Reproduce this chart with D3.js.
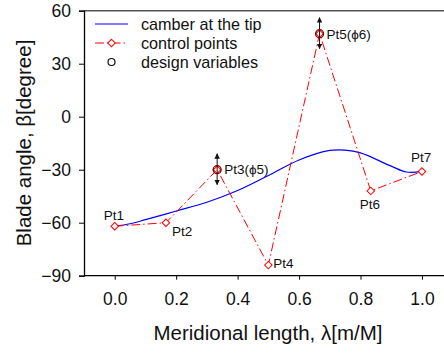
<!DOCTYPE html>
<html lang="en">
<head>
  <meta charset="UTF-8">
  <title>Blade angle vs meridional length</title>
  <script src="https://d3js.org/d3.v7.min.js"></script>
  <style>
    body { margin: 0; background: #fff; }
    svg { display: block; font-family: "Liberation Sans", Arial, sans-serif; }
  </style>
</head>
<body>
  <div id="chart"></div>
  <script>
    // control points Pt1..Pt7
    const ctrlX = [0, 1/6, 2/6, 3/6, 4/6, 5/6, 1];
    const ctrlY = [-62, -60, -30, -84, 47, -42, -31];
    const ctrlLabels = ["Pt1", "Pt2", "Pt3(\u03d55)", "Pt4", "Pt5(\u03d56)", "Pt6", "Pt7"];
    // label offsets in px from each point
    const labelDx = [-11, 6, 7, 5, 7, -11, -11];
    const labelDy = [-6, 13, 4, 3, 5, 18, -9];
    // design variables are Pt3 and Pt5
    const designIdx = [2, 4];

    // camber line at the tip
    const camberX = [0, 0.05, 0.1, 0.2, 0.3, 0.4, 0.5, 0.6, 0.7, 0.75, 0.8, 0.9, 0.95, 1.0];
    const camberY = [-62, -60.6, -58.3, -53.4, -48.4, -41.8, -33.3, -24.5, -19.1, -18.9, -20.5, -28, -31.3, -31];

    const xTicks = [0, 0.2, 0.4, 0.6, 0.8, 1.0];
    const yTicks = [-90, -60, -30, 0, 30, 60];

    const width = 444, height = 353;
    const svg = d3.select("#chart").append("svg")
      .attr("width", width)
      .attr("height", height);

    const x = d3.scaleLinear().domain([-0.1, 1.1]).range([84, 452.7]);
    const y = d3.scaleLinear().domain([-90, 60]).range([275.7, 10.7]);

    // frame top
    svg.append("line")
      .attr("x1", x(-0.1)).attr("x2", width)
      .attr("y1", y(60)).attr("y2", y(60))
      .attr("stroke", "#555").attr("stroke-width", 1.6);

    // axes
    const xAxis = svg.append("g")
      .attr("transform", `translate(0,${y(-90)})`)
      .call(d3.axisBottom(x).tickValues(xTicks).tickFormat(d3.format(".1f")).tickSize(4).tickPadding(13));
    xAxis.select(".domain").attr("d", `M${x(-0.1)},0H${width}`).attr("stroke-width", 1.3);
    xAxis.selectAll("text").attr("font-size", 17.5).attr("font-family", "Liberation Sans, Arial, sans-serif").attr("fill", "#111");

    const yAxis = svg.append("g")
      .attr("transform", `translate(${x(-0.1)},0)`)
      .call(d3.axisLeft(y).tickValues(yTicks).tickSize(5).tickPadding(8));
    yAxis.select(".domain").attr("stroke-width", 1.3);
    yAxis.selectAll("text").attr("font-size", 17.5).attr("font-family", "Liberation Sans, Arial, sans-serif").attr("fill", "#111");

    // axis titles
    svg.append("text")
      .attr("x", 268).attr("y", 340)
      .attr("text-anchor", "middle")
      .attr("font-size", 20.5).attr("fill", "#111")
      .text("Meridional length, \u03bb[m/M]");
    svg.append("text")
      .attr("transform", `translate(31,143) rotate(-90)`)
      .attr("text-anchor", "middle")
      .attr("font-size", 20.5).attr("fill", "#111")
      .text("Blade angle, \u03b2[degree]");

    // camber line
    const camber = camberX.map((v, i) => [v, camberY[i]]);
    svg.append("path")
      .datum(camber)
      .attr("fill", "none")
      .attr("stroke", "#0000ff")
      .attr("stroke-width", 1.2)
      .attr("d", d3.line().x(d => x(d[0])).y(d => y(d[1])).curve(d3.curveCatmullRom.alpha(0.5)));

    // control polygon
    const ctrl = ctrlX.map((v, i) => [v, ctrlY[i]]);
    const dashDot = "9,3,1.5,3";
    svg.append("path")
      .datum(ctrl)
      .attr("fill", "none")
      .attr("stroke", "#ff0000")
      .attr("stroke-width", 1)
      .attr("stroke-dasharray", dashDot)
      .attr("d", d3.line().x(d => x(d[0])).y(d => y(d[1])));

    svg.append("g").selectAll("path")
      .data(ctrl)
      .join("path")
      .attr("transform", d => `translate(${x(d[0])},${y(d[1])}) rotate(45)`)
      .attr("d", d3.symbol().type(d3.symbolSquare).size(28))
      .attr("fill", "#fff")
      .attr("stroke", "#ff0000")
      .attr("stroke-width", 1);

    // arrow heads
    const defs = svg.append("defs");
    defs.append("marker")
      .attr("id", "arr")
      .attr("viewBox", "0 0 10 10")
      .attr("refX", 9).attr("refY", 5)
      .attr("markerWidth", 5.5).attr("markerHeight", 5.5)
      .attr("orient", "auto-start-reverse")
      .append("path").attr("d", "M0,0L10,5L0,10Z").attr("fill", "#111");

    // design variables
    designIdx.forEach(i => {
      const px = x(ctrlX[i]), py = y(ctrlY[i]);
      svg.append("line")
        .attr("x1", px).attr("x2", px)
        .attr("y1", py - 16).attr("y2", py + 15)
        .attr("stroke", "#111").attr("stroke-width", 1)
        .attr("marker-start", "url(#arr)")
        .attr("marker-end", "url(#arr)");
      svg.append("circle")
        .attr("cx", px).attr("cy", py).attr("r", 4)
        .attr("fill", "none")
        .attr("stroke", "#7a0000").attr("stroke-width", 1.3);
    });

    // point labels
    svg.append("g").selectAll("text")
      .data(ctrl)
      .join("text")
      .attr("x", (d, i) => x(d[0]) + labelDx[i])
      .attr("y", (d, i) => y(d[1]) + labelDy[i])
      .attr("font-size", 13.5)
      .attr("fill", "#111")
      .text((d, i) => ctrlLabels[i]);

    // legend
    const legend = svg.append("g").attr("font-size", 16.2).attr("fill", "#111");
    const lx1 = 95, lx2 = 128, lt = 141;
    legend.append("line").attr("x1", lx1).attr("x2", lx2).attr("y1", 24).attr("y2", 24)
      .attr("stroke", "#0000ff").attr("stroke-width", 1.2);
    legend.append("text").attr("x", lt).attr("y", 29.5).text("camber at the tip");

    legend.append("line").attr("x1", lx1).attr("x2", lx2).attr("y1", 43).attr("y2", 43)
      .attr("stroke", "#ff0000").attr("stroke-width", 1).attr("stroke-dasharray", dashDot);
    legend.append("path")
      .attr("transform", `translate(${(lx1 + lx2) / 2},43) rotate(45)`)
      .attr("d", d3.symbol().type(d3.symbolSquare).size(28))
      .attr("fill", "#fff").attr("stroke", "#ff0000");
    legend.append("text").attr("x", lt).attr("y", 48.5).text("control points");

    legend.append("circle").attr("cx", (lx1 + lx2) / 2).attr("cy", 62).attr("r", 3.5)
      .attr("fill", "none").attr("stroke", "#111").attr("stroke-width", 1.2);
    legend.append("text").attr("x", lt).attr("y", 68).text("design variables");
  </script>
</body>
</html>
